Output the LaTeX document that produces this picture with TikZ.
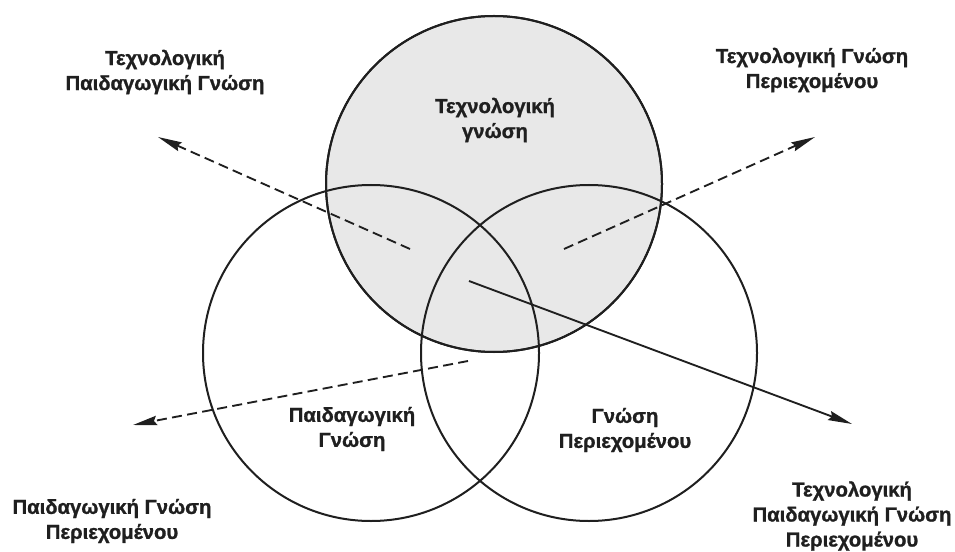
\documentclass[tikz,border=0pt]{standalone}
\usepackage{fontspec}
\setmainfont{Liberation Sans}
\newfontfamily\lblfont{Liberation Sans}[UprightFont={* Bold}, UprightFeatures={FakeBold=1.2}]
\definecolor{Ink}{rgb}{0.12,0.12,0.12}
\definecolor{LightGrey}{rgb}{0.91,0.91,0.91}
\usepackage{tikz}
\usetikzlibrary{arrows.meta, positioning, calc}

\begin{document}
\begin{tikzpicture}[x=0.75pt,y=-0.75pt,
    ring/.style={draw=Ink, line width=1.5pt},
    lbl/.style={align=center, text=Ink, font=\lblfont\fontsize{15.2}{18.75}\selectfont},
    dasharrow/.style={draw=Ink, line width=1.4pt, dash pattern=on 7.5pt off 4pt,
        -{Stealth[length=18pt,width=7pt,inset=2pt]}},
    solidarrow/.style={draw=Ink, line width=1.4pt,
        -{Stealth[length=18pt,width=7pt,inset=2pt]}}]

    \useasboundingbox (0,0) rectangle (955,552);

    \coordinate (T) at (494,184);  % centre of technology circle
    \coordinate (P) at (371,353);  % centre of pedagogy circle
    \coordinate (C) at (589,353);  % centre of content circle

    % grey circle
        \filldraw[ring, fill=LightGrey] (T) circle (168);

    % arrow end points
    \coordinate (tpkS) at (410,249);
    \coordinate (tpkE) at (158,137);
    \coordinate (tckS) at (564,249);
    \coordinate (tckE) at (815,137);
    \coordinate (pckS) at (468,361);
    \coordinate (pckE) at (133,425);
    \coordinate (tpckS) at (469,281);
    \coordinate (tpckE) at (852,424);

    % arrows
    \draw[dasharrow] (tpkS) -- (tpkE);
    \draw[dasharrow] (tckS) -- (tckE);
    \draw[dasharrow] (pckS) -- (pckE);
    \draw[solidarrow] (tpckS) -- (tpckE);

    % white circles
        \draw[ring] (P) circle (168);
        \draw[ring] (C) circle (168);
        \draw[ring] (T) circle (168);

    % labels
    \node[lbl] (tk) at (495,120) {Τεχνολογική\\γνώση};
    \node[lbl] (pk) at (352,429) {Παιδαγωγική\\Γνώση};
    \node[lbl] (ck) at (625,430) {Γνώση\\Περιεχομένου};
    \node[lbl] (tpk) at (165,72) {Τεχνολογική\\Παιδαγωγική Γνώση};
    \node[lbl] (tck) at (812,70) {Τεχνολογική Γνώση\\Περιεχομένου};
    \node[lbl] (pck) at (112,521) {Παιδαγωγική Γνώση\\Περιεχομένου};
    \node[lbl] (tpck) at (852,516) {Τεχνολογική\\Παιδαγωγική Γνώση\\Περιεχομένου};

\end{tikzpicture}
\end{document}
